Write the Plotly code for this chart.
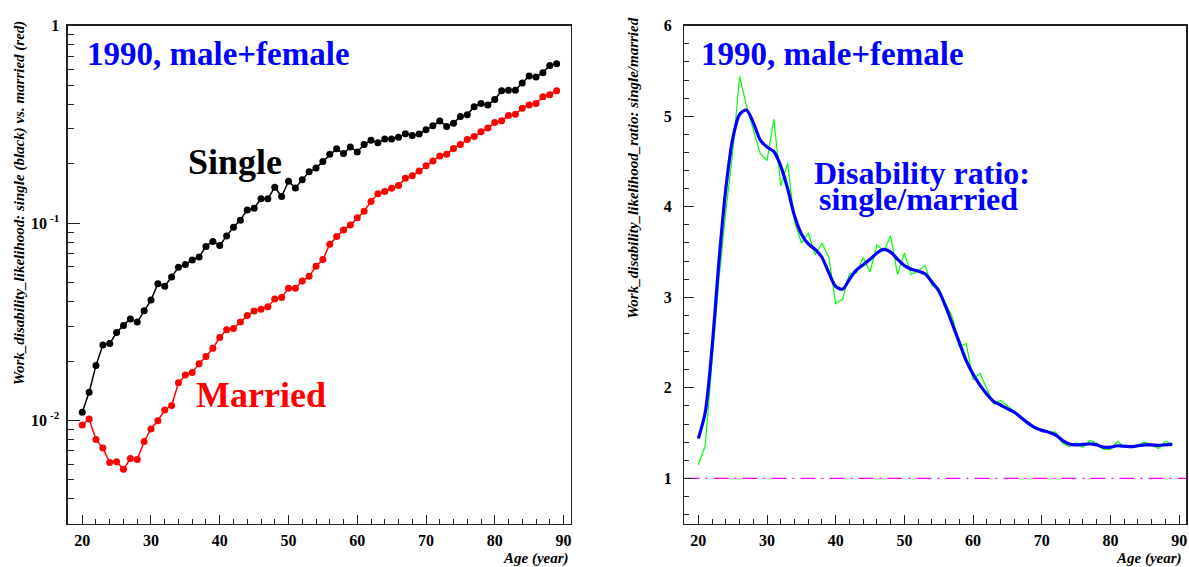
import plotly.graph_objects as go

# ---------------- data ----------------
ages = list(range(20, 90))

single = [0.0110, 0.0139, 0.0190, 0.0241, 0.0245, 0.0279, 0.0303, 0.0327, 0.0315, 0.0360,
          0.0407, 0.0493, 0.0479, 0.0533, 0.0598, 0.0617, 0.0650, 0.0673, 0.0762, 0.0807,
          0.0770, 0.0861, 0.0952, 0.1035, 0.1166, 0.1190, 0.1328, 0.1328, 0.1520, 0.1364,
          0.1630, 0.1508, 0.1660, 0.1820, 0.1900, 0.2050, 0.2230, 0.2380, 0.2250, 0.2430,
          0.2290, 0.2500, 0.2630, 0.2550, 0.2670, 0.2670, 0.2720, 0.2840, 0.2780, 0.2830,
          0.2970, 0.3110, 0.3290, 0.3090, 0.3210, 0.3470, 0.3540, 0.3890, 0.4040, 0.3970,
          0.4230, 0.4680, 0.4710, 0.4710, 0.5130, 0.5560, 0.5500, 0.5780, 0.6290, 0.6410]

married = [0.00948, 0.01016, 0.00800, 0.00724, 0.00612, 0.00617, 0.00565, 0.00641, 0.00634, 0.00782,
           0.00905, 0.00996, 0.0113, 0.0119, 0.0155, 0.0170, 0.0175, 0.0194, 0.0211, 0.0232,
           0.0263, 0.0288, 0.0292, 0.0315, 0.0340, 0.0358, 0.0366, 0.0377, 0.0412, 0.0420,
           0.0468, 0.0468, 0.0509, 0.0537, 0.0605, 0.0653, 0.0782, 0.0855, 0.0923, 0.0977,
           0.1063, 0.1148, 0.1288, 0.1407, 0.1445, 0.1500, 0.1550, 0.1685, 0.1738, 0.1835,
           0.1950, 0.2065, 0.2188, 0.2230, 0.2390, 0.2500, 0.2650, 0.2750, 0.2900, 0.3030,
           0.3236, 0.3300, 0.3510, 0.3560, 0.3820, 0.3970, 0.4040, 0.4365, 0.4470, 0.4690]

ratio = [1.15, 1.36, 2.30, 3.20, 3.95, 4.60, 5.44, 5.12, 4.85, 4.59,
         4.51, 4.97, 4.23, 4.48, 3.84, 3.60, 3.71, 3.47, 3.60, 3.44,
         2.93, 2.98, 3.26, 3.27, 3.44, 3.28, 3.58, 3.51, 3.68, 3.25,
         3.49, 3.25, 3.29, 3.35, 3.13, 3.10, 2.93, 2.78, 2.46, 2.49,
         2.09, 2.16, 1.99, 1.82, 1.86, 1.80, 1.75, 1.68, 1.62, 1.55,
         1.54, 1.51, 1.51, 1.39, 1.35, 1.39, 1.34, 1.42, 1.39, 1.32,
         1.32, 1.41, 1.35, 1.34, 1.37, 1.40, 1.37, 1.33, 1.41, 1.38]

ratio_smooth = [1.44, 1.73, 2.45, 3.40, 4.20, 4.75, 5.02, 5.07, 4.93, 4.74,
                4.66, 4.61, 4.45, 4.20, 3.90, 3.70, 3.59, 3.53, 3.44, 3.27,
                3.12, 3.09, 3.20, 3.30, 3.36, 3.42, 3.49, 3.53, 3.50, 3.42,
                3.35, 3.31, 3.29, 3.26, 3.17, 3.07, 2.90, 2.70, 2.50, 2.30,
                2.15, 2.03, 1.93, 1.85, 1.81, 1.77, 1.73, 1.67, 1.61, 1.56,
                1.53, 1.51, 1.48, 1.42, 1.38, 1.37, 1.375, 1.38, 1.37, 1.345,
                1.345, 1.36, 1.355, 1.35, 1.36, 1.37, 1.37, 1.365, 1.37, 1.375]

ref_level = 1.0

left_ytick_vals = [0.01, 0.1, 1]
left_ytick_text = ["10<sup> -2</sup>", "10<sup> -1</sup>", "1"]
left_yminor_vals = [m * d for d in (0.001, 0.01, 0.1) for m in range(2, 10)]

# ---------------- figure ----------------
W, H = 1189, 567
FONT = "Liberation Serif"


def px_x(p):
    return p / W


def px_y(p):
    return 1 - p / H


fig = go.Figure()

fig.add_trace(go.Scatter(x=ages, y=single, mode="lines+markers", xaxis="x", yaxis="y",
                         line=dict(color="black", width=1.5),
                         marker=dict(color="black", size=7), showlegend=False))
fig.add_trace(go.Scatter(x=ages, y=married, mode="lines+markers", xaxis="x", yaxis="y",
                         line=dict(color="#ff0000", width=1.5),
                         marker=dict(color="#ff0000", size=7), showlegend=False))

fig.add_trace(go.Scatter(x=ages, y=ratio, mode="lines", xaxis="x2", yaxis="y2",
                         line=dict(color="#00ff00", width=1.2), showlegend=False))
fig.add_trace(go.Scatter(x=ages, y=ratio_smooth, mode="lines", xaxis="x2", yaxis="y2",
                         line=dict(color="#0000ff", width=3.2, shape="spline", smoothing=0.8),
                         showlegend=False))

fig.add_shape(type="line", xref="x2 domain", yref="y2", x0=0, x1=1, y0=ref_level, y1=ref_level,
              line=dict(color="#ff00ff", width=1.2, dash="15px,6px,2px,6px"), layer="below")

tickfont = dict(family=FONT, size=16, color="black", weight="bold")
axis_common = dict(showline=True, linecolor="#222", linewidth=1.5, mirror=True,
                   ticks="inside", tickcolor="#222", showgrid=False, zeroline=False,
                   tickfont=tickfont)

ydom = [px_y(523), px_y(18)]

fig.update_layout(
    width=W, height=H, autosize=False,
    margin=dict(l=0, r=0, t=0, b=0),
    paper_bgcolor="white", plot_bgcolor="white",
    xaxis=dict(domain=[px_x(68), px_x(571)], range=[17.92, 91.02], anchor="y",
               tickmode="linear", tick0=0, dtick=10, ticklen=9,
               minor=dict(ticks="inside", dtick=2, tick0=0, ticklen=5, tickcolor="#222"),
               ticklabelstandoff=2, **axis_common),
    yaxis=dict(domain=ydom, type="log", range=[-2.523, 0], anchor="x",
               tickmode="array", tickvals=left_ytick_vals, ticktext=left_ytick_text,
               ticklen=12, ticklabelstandoff=4,
               minor=dict(ticks="inside", tickmode="array", tickvals=left_yminor_vals,
                          ticklen=6, tickcolor="#222"),
               **axis_common),
    xaxis2=dict(domain=[px_x(685), px_x(1187)], range=[17.97, 91.0], anchor="y2",
                tickmode="linear", tick0=0, dtick=10, ticklen=9,
                minor=dict(ticks="inside", dtick=2, tick0=0, ticklen=5, tickcolor="#222"),
                ticklabelstandoff=2, **axis_common),
    yaxis2=dict(domain=ydom, range=[0.5, 6], anchor="x2",
                tickmode="linear", tick0=0, dtick=1, ticklen=10, ticklabelstandoff=8,
                minor=dict(ticks="inside", dtick=0.2, tick0=0, ticklen=5, tickcolor="#222"),
                **axis_common),
)


def ann(text, x, y, xref, yref, size, color, xanchor="left", yanchor="middle",
        angle=0, italic=False):
    fig.add_annotation(text=text, x=x, y=y, xref=xref, yref=yref, showarrow=False,
                       xanchor=xanchor, yanchor=yanchor, textangle=angle,
                       font=dict(family=FONT, size=size, color=color, weight="bold",
                                 style="italic" if italic else "normal"))


# texts inside panels
ann("1990, male+female", 0.033, 0.943, "x domain", "y domain", 33, "#0000ff")
ann("Single", 0.332, 0.727, "x domain", "y domain", 36, "black", xanchor="center")
ann("Married", 0.384, 0.258, "x domain", "y domain", 36, "#ff0000", xanchor="center")

ann("1990, male+female", 0.029, 0.943, "x2 domain", "y2 domain", 33, "#0000ff")
ann("Disability ratio:", 0.473, 0.705, "x2 domain", "y2 domain", 32, "#0000ff", xanchor="center")
ann("single/married", 0.466, 0.653, "x2 domain", "y2 domain", 32, "#0000ff", xanchor="center")

# axis titles
ann("Work_disability_likelihood: single (black) vs. married (red)", px_x(19), px_y(10),
    "paper", "paper", 15, "black", xanchor="center", yanchor="top", angle=-90, italic=True)
ann("Work_disability_likelihood_ratio: single/married", px_x(634), px_y(8),
    "paper", "paper", 15, "black", xanchor="center", yanchor="top", angle=-90, italic=True)
ann("Age (year)", px_x(571), px_y(558), "paper", "paper", 15, "black",
    xanchor="right", yanchor="middle", italic=True)
ann("Age (year)", px_x(1185), px_y(558), "paper", "paper", 15, "black",
    xanchor="right", yanchor="middle", italic=True)

pin_to_corner = (
    "document.body.style.margin='0';document.body.style.padding='0';"
    "document.body.style.overflow='hidden';"
    "var gd=document.getElementById('{plot_id}');"
    "gd.style.position='fixed';gd.style.left='0px';gd.style.top='0px';"
)

fig.write_html("out.html", post_script=pin_to_corner,
               config={"displayModeBar": False, "staticPlot": True})
